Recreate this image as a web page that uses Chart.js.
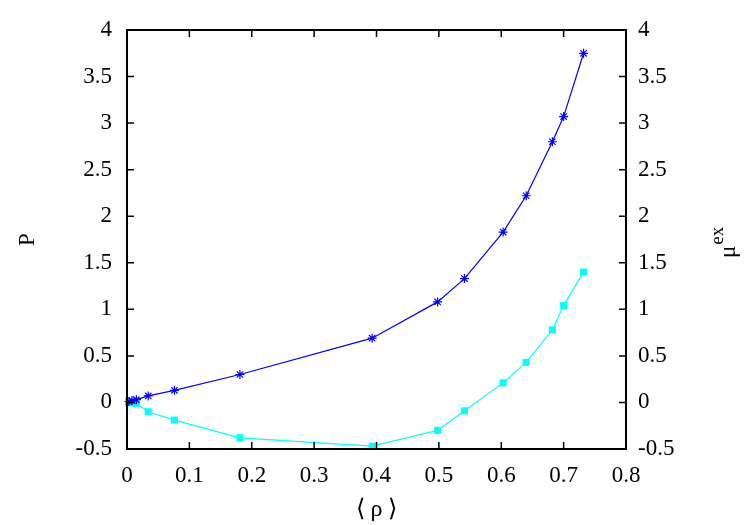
<!DOCTYPE html>
<html>
<head>
<meta charset="utf-8">
<script src="https://cdn.jsdelivr.net/npm/chart.js@4"></script>
<style>
  html, body { margin: 0; padding: 0; background: #fff; }
  #wrap { width: 750px; height: 525px; }
</style>
</head>
<body>
<div id="wrap"><canvas id="chart" width="750" height="525"></canvas></div>
<script>
// density values
var rho = [0.003, 0.008, 0.015, 0.034, 0.076, 0.181, 0.393, 0.498, 0.541, 0.603, 0.640, 0.682, 0.700, 0.732]
// pressure (left axis)
var pressure = [0.01, 0.02, 0.03, 0.07, 0.13, 0.30, 0.69, 1.08, 1.33, 1.83, 2.22, 2.80, 3.07, 3.75]
// excess chemical potential (right axis)
var muEx = [0.0, -0.005, -0.01, -0.10, -0.19, -0.38, -0.47, -0.30, -0.09, 0.21, 0.43, 0.78, 1.04, 1.40]

var xTicks = [0, 0.1, 0.2, 0.3, 0.4, 0.5, 0.6, 0.7, 0.8]
var yTicks = [-0.5, 0, 0.5, 1, 1.5, 2, 2.5, 3, 3.5, 4]

var serif = "'Liberation Serif', 'Times New Roman', serif"

function points(xs, ys) {
    return xs.map(function (x, i) { return { x: x, y: ys[i] } })
}

function fmt(v) {
    return String(Number(v.toFixed(2)))
}

function setTicks(list) {
    return function (scale) {
        scale.ticks = list.map(function (v) { return { value: v } })
    }
}

// box, inward tick marks and the right axis title
var frame = {
    id: 'frame',
    afterDraw: function (chart) {
        var ctx = chart.ctx
        var a = chart.chartArea
        var sx = chart.scales.x
        var sy = chart.scales.y
        var sy2 = chart.scales.y2
        var len = 7
        ctx.save()
        ctx.strokeStyle = '#000'
        ctx.lineWidth = 2
        ctx.strokeRect(a.left, a.top, a.right - a.left, a.bottom - a.top)
        ctx.lineWidth = 1.5
        ctx.beginPath()
        xTicks.forEach(function (v) {
            var px = sx.getPixelForValue(v)
            ctx.moveTo(px, a.bottom)
            ctx.lineTo(px, a.bottom - len)
            ctx.moveTo(px, a.top)
            ctx.lineTo(px, a.top + len)
        })
        yTicks.forEach(function (v) {
            var py = sy.getPixelForValue(v)
            ctx.moveTo(a.left, py)
            ctx.lineTo(a.left + len, py)
            var py2 = sy2.getPixelForValue(v)
            ctx.moveTo(a.right, py2)
            ctx.lineTo(a.right - len, py2)
        })
        ctx.stroke()

        // mu^ex, rotated to read upwards
        ctx.translate(735, 258)
        ctx.rotate(-Math.PI / 2)
        ctx.fillStyle = '#000'
        ctx.textBaseline = 'alphabetic'
        ctx.textAlign = 'left'
        ctx.font = '23px ' + serif
        ctx.fillText('μ', 0, 0)
        var w = ctx.measureText('μ').width
        ctx.font = '19px ' + serif
        ctx.fillText('ex', w + 1, -12)
        ctx.restore()
    }
}

Chart.defaults.font.family = serif
Chart.defaults.color = '#000'

new Chart(document.getElementById('chart').getContext('2d'), {
    type: 'line',
    data: {
        datasets: [{
            label: 'P',
            data: points(rho, pressure),
            yAxisID: 'y',
            borderColor: '#0000ff',
            backgroundColor: '#0000ff',
            borderWidth: 1.2,
            pointStyle: 'star',
            pointRadius: 4.5,
            pointBorderWidth: 1.2,
            tension: 0,
            clip: false
        }, {
            label: 'mu_ex',
            data: points(rho, muEx),
            yAxisID: 'y2',
            borderColor: '#00ffff',
            backgroundColor: '#00ffff',
            borderWidth: 1.2,
            pointStyle: 'rect',
            pointRadius: 5,
            pointBorderWidth: 0,
            tension: 0,
            clip: false
        }]
    },
    options: {
        responsive: false,
        animation: false,
        layout: { padding: { top: 30, left: 0, right: 0, bottom: 0 } },
        plugins: {
            legend: { display: false },
            tooltip: { enabled: false }
        },
        scales: {
            x: {
                type: 'linear',
                min: 0,
                max: 0.8,
                afterBuildTicks: setTicks(xTicks),
                afterFit: function (s) { s.height = 76 },
                grid: { display: false, drawTicks: false },
                border: { display: false },
                ticks: { font: { size: 23 }, padding: 13, maxRotation: 0, callback: fmt },
                title: { display: true, text: '⟨ ρ ⟩', font: { size: 24 }, padding: { top: 0, bottom: 1 } }
            },
            y: {
                position: 'left',
                min: -0.5,
                max: 4,
                afterBuildTicks: setTicks(yTicks),
                afterFit: function (s) { s.width = 127 },
                grid: { display: false, drawTicks: false },
                border: { display: false },
                ticks: { font: { size: 23 }, padding: 15, callback: fmt },
                title: { display: true, text: 'P', font: { size: 23 }, padding: { top: 14, bottom: 0 } }
            },
            y2: {
                position: 'right',
                min: -0.5,
                max: 4,
                afterBuildTicks: setTicks(yTicks),
                afterFit: function (s) { s.width = 124 },
                grid: { display: false, drawTicks: false },
                border: { display: false },
                ticks: { font: { size: 23 }, padding: 12, callback: fmt }
            }
        }
    },
    plugins: [frame]
});
</script>
</body>
</html>
